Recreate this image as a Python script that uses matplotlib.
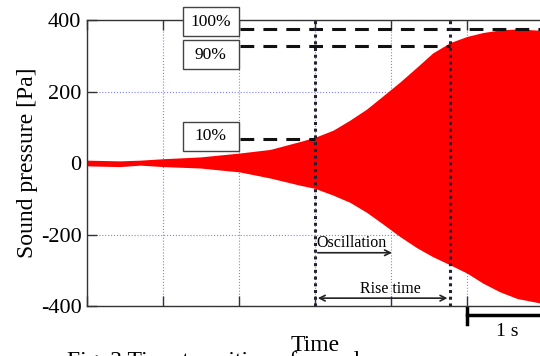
import matplotlib.pyplot as plt
import numpy as np
from matplotlib.patches import Rectangle

plt.rcParams['font.family'] = ['Liberation Serif', 'DejaVu Serif']
plt.rcParams['axes.unicode_minus'] = False

# envelope of the sound pressure signal (time in grid units, Pa)
t_env = [0, 0.43, 0.7, 1.0, 1.49, 2.01, 2.41, 2.8, 3.0, 3.24, 3.46, 3.68, 3.89,
         4.12, 4.34, 4.55, 4.78, 5.0, 5.21, 5.43, 5.66, 6.0]
upper = [8, 6, 8, 12, 17, 28, 38, 60, 72, 92, 120, 151, 187,
         227, 268, 308, 337, 354, 365, 372, 375, 371]
lower = [-8, -10, -6, -10, -14, -25, -42, -62, -71, -90, -110, -138, -170,
         -206, -237, -262, -285, -308, -336, -360, -379, -393]

levels = [375, 328, 67]          # 100%, 90%, 10%
level_labels = ['100%', '90%', '10%']
level_end = [6.1, 4.78, 3.0]
box_bottom = [355, 263, 34]
box_top = [436, 344, 115]

t_osc = 3.0      # start of oscillation
t_rise = 4.78    # end of rise time
t_arrow_osc = 4.05

fig = plt.figure(figsize=(5.4, 3.56), dpi=100)
ax = fig.add_axes([0.1611, 0.1404, 0.8444, 0.8034])

ax.fill_between(t_env, lower, upper, color='#ff0000', lw=0, zorder=2)

ax.set_xlim(0, 6)
ax.set_ylim(-400, 400)
ax.set_xticks(np.arange(0, 7, 1))
ax.set_xticklabels([])
ax.set_yticks([-400, -200, 0, 200, 400])
ax.set_yticklabels(['-400', '-200', '0', '200', '400'])
ax.tick_params(direction='in', length=7, width=1, colors='#333333',
               labelcolor='black', labelsize=16, top=True, pad=4)
ax.grid(True, color='#8080ff', linestyle=':', linewidth=0.8, zorder=1)
ax.set_axisbelow(True)
for s in ax.spines.values():
    s.set_color('#333333')
    s.set_linewidth(1)

ax.set_ylabel('Sound pressure [Pa]', fontsize=17, labelpad=2)
ax.set_xlabel('Time', fontsize=17, labelpad=17)

# reference levels
for lv, lab, xe, b0, b1 in zip(levels, level_labels, level_end, box_bottom, box_top):
    ax.plot([2.01, xe], [lv, lv], color='#111111', lw=2.2,
            dashes=(4.5, 3), zorder=4, clip_on=False)
    ax.add_patch(Rectangle((1.26, b0), 0.74, b1 - b0, fc='white', ec='#444444',
                           lw=1, zorder=5, clip_on=False))
    ax.text(1.63, (b0 + b1) / 2, lab, ha='center', va='center', fontsize=12.5,
            zorder=6, clip_on=False)

# vertical markers
for tv in [t_osc, t_rise]:
    ax.axvline(tv, color='#222233', lw=2.2, ls=(0, (1, 1.2)), zorder=4)

ax.annotate('', xy=(t_arrow_osc, -251), xytext=(t_osc, -251),
            arrowprops=dict(arrowstyle='->', color='#222222', lw=1.2), zorder=5)
ax.text(t_osc + 0.02, -224, 'Oscillation', ha='left', va='center', fontsize=11.5)
ax.annotate('', xy=(t_rise, -378), xytext=(t_osc, -378),
            arrowprops=dict(arrowstyle='<->', color='#222222', lw=1.2), zorder=5)
ax.text(3.99, -352, 'Rise time', ha='center', va='center', fontsize=11.5)

# 1 s scale bar
ax.plot([5.0, 6.1], [-425, -425], color='black', lw=2.5, clip_on=False)
ax.plot([5.0, 5.0], [-405, -450], color='black', lw=2.5, clip_on=False)
ax.text(5.53, -472, '1 s', ha='center', va='center', fontsize=14, clip_on=False)

fig.text(0.124, 0.013, 'Fig. 3 Time transition of sound pressure',
         ha='left', va='top', fontsize=17)

fig.savefig('out.png', dpi=100)
